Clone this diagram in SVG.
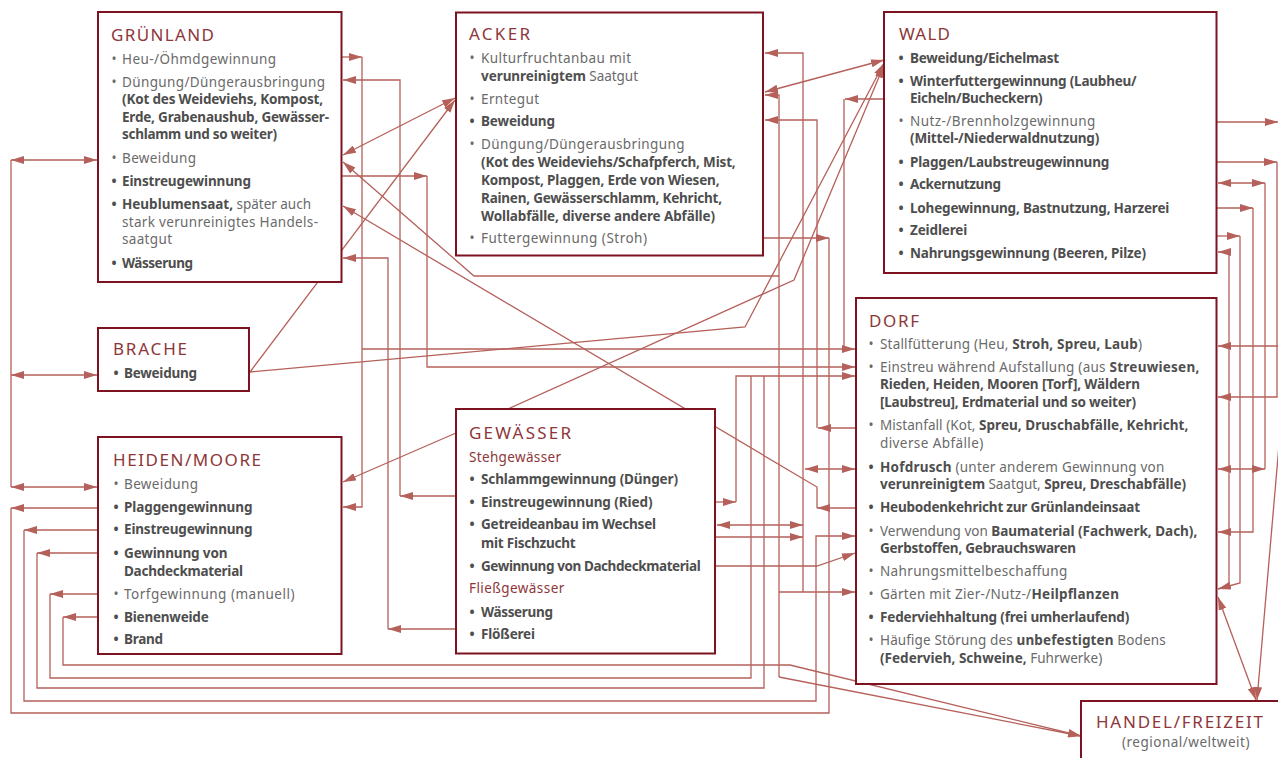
<svg xmlns="http://www.w3.org/2000/svg" width="1278" height="758" viewBox="0 0 1278 758">
<style>
text{font-family:"Noto Sans","Open Sans","DejaVu Sans",sans-serif;font-size:13.5px}
.t{font-size:17px;fill:#8e3639}
.s{fill:#8e3639}
.r{fill:#6a6a6a}
.b{fill:#4e4e4e;font-weight:700}
.m{fill:#6a6a6a}
tspan.b{fill:#4e4e4e;font-weight:700}
.box{fill:#fff;stroke:#7d1220;stroke-width:2}
.c{fill:none;stroke:#b5605a;stroke-width:1.3}
.ae{marker-end:url(#ah)}
.as{marker-start:url(#ah)}
</style>
<defs>
<marker id="ah" viewBox="0 0 13 8" refX="13" refY="4" markerWidth="13" markerHeight="8" markerUnits="userSpaceOnUse" orient="auto-start-reverse"><path d="M0,0 L13,4 L0,8 z" fill="#b5605a"/></marker>
</defs>
<rect width="1278" height="758" fill="#fff"/>
<g id="connectors">
<path class="c" d="M11,160 V487"/>
<path class="c as ae" d="M11,160 H97"/>
<path class="c as ae" d="M11,375 H97"/>
<path class="c as ae" d="M11,487 H97"/>
<path class="c ae" d="M98,508 H11"/>
<path class="c" d="M11,508 V713 H829 V238"/>
<path class="c ae" d="M98,530 H24"/>
<path class="c ae" d="M24,530 V701 H816 V536 H855"/>
<path class="c ae" d="M98,553 H37"/>
<path class="c" d="M37,553 V688 H764 V376"/>
<path class="c ae" d="M98,594 H50"/>
<path class="c" d="M50,594 V678 H751 V376"/>
<path class="c ae" d="M98,617 H63"/>
<path class="c ae" d="M63,617 V665 H790 L1081,736"/>
<path class="c ae" d="M341,57 H362"/>
<path class="c ae" d="M362,57 V507 H343"/>
<path class="c ae" d="M362,349 H855"/>
<path class="c ae" d="M456,496 H400"/>
<path class="c ae" d="M400,496 V80 H343"/>
<path class="c ae" d="M341,176 H427"/>
<path class="c ae" d="M427,176 V367 H855"/>
<path class="c ae" d="M456,629 H388"/>
<path class="c ae" d="M388,629 V258 H343"/>
<path class="c as ae" d="M343,155 L455,98"/>
<path class="c ae" d="M779,276 H474 L343,162"/>
<path class="c ae" d="M855,508 H817"/>
<path class="c ae" d="M817,508 V487 L343,206"/>
<path class="c ae" d="M250,372 L455,100"/>
<path class="c ae" d="M250,372 L745,327 L884,63"/>
<path class="c ae" d="M508,409 L794,280 L884,65"/>
<path class="c ae" d="M456,433 L343,482"/>
<path class="c ae" d="M803,592 V53 H765"/>
<path class="c ae" d="M779,592 H855"/>
<path class="c ae" d="M779,677 V95 H765"/>
<path class="c as ae" d="M765,92 L884,60"/>
<path class="c ae" d="M779,677 L1081,736"/>
<path class="c ae" d="M855,428 H818"/>
<path class="c ae" d="M817,428 V120 H765"/>
<path class="c ae" d="M763,238 H829"/>
<path class="c ae" d="M884,99 H845"/>
<path class="c" d="M844,99 V349"/>
<path class="c ae" d="M715,502 H736"/>
<path class="c ae" d="M736,502 V376 H855"/>
<path class="c as ae" d="M717,525 H803"/>
<path class="c ae" d="M715,537 H803"/>
<path class="c ae" d="M715,566 H817 L855,553"/>
<path class="c as ae" d="M805,469 H855"/>
<path class="c ae" d="M1278,346 H1218"/>
<path class="c ae" d="M1216,162 H1277"/>
<path class="c ae" d="M1277,162 V397 H1218"/>
<path class="c as ae" d="M1218,183 H1265"/>
<path class="c" d="M1265,183 V469"/>
<path class="c as ae" d="M1218,469 H1265"/>
<path class="c ae" d="M1216,208 H1253"/>
<path class="c ae" d="M1253,208 V532 H1218"/>
<path class="c ae" d="M1216,236 H1240"/>
<path class="c ae" d="M1240,236 V583 L1218,589"/>
<path class="c ae" d="M1218,589 L1229,585 V252 H1218"/>
<path class="c ae" d="M1216,122 H1278"/>
<path class="c as ae" d="M1218,597 L1256,700"/>
<path class="c ae" d="M1279,445 L1257,700"/>
</g>
<g id="gruenland">
<rect class="box" x="98" y="12" width="243.5" height="270"/>
<text class="t" x="111" y="41" textLength="103">GRÜNLAND</text>
<text class="r" x="111.5" y="64">•</text><text class="r" x="122" y="64" textLength="154">Heu-/Öhmdgewinnung</text>
<text class="r" x="111.5" y="87">•</text><text class="r" x="122" y="87" textLength="203">Düngung/Düngerausbringung</text>
<text class="b" x="122" y="104" textLength="201">(Kot des Weideviehs, Kompost,</text>
<text class="b" x="122" y="122" textLength="207">Erde, Grabenaushub, Gewässer-</text>
<text class="b" x="122" y="139" textLength="155">schlamm und so weiter)</text>
<text class="r" x="111.5" y="163">•</text><text class="r" x="122" y="163" textLength="74">Beweidung</text>
<text class="b" x="111.5" y="186">•</text><text class="b" x="122" y="186" textLength="129">Einstreugewinnung</text>
<text class="b" x="111.5" y="209">•</text><text class="m" x="122" y="209" textLength="189"><tspan class="b">Heublumensaat,</tspan> später auch</text>
<text class="r" x="122" y="227" textLength="196">stark verunreinigtes Handels-</text>
<text class="r" x="122" y="244" textLength="50">saatgut</text>
<text class="b" x="111.5" y="268">•</text><text class="b" x="122" y="268" textLength="71">Wässerung</text>
</g>
<g id="brache">
<rect class="box" x="98" y="328" width="151" height="63"/>
<text class="t" x="113" y="355" textLength="74">BRACHE</text>
<text class="b" x="113.5" y="378">•</text><text class="b" x="124" y="378" textLength="73">Beweidung</text>
</g>
<g id="heiden">
<rect class="box" x="98" y="437" width="243.5" height="217"/>
<text class="t" x="113" y="466" textLength="148">HEIDEN/MOORE</text>
<text class="r" x="113.5" y="489">•</text><text class="r" x="124" y="489" textLength="74">Beweidung</text>
<text class="b" x="113.5" y="512">•</text><text class="b" x="124" y="512" textLength="128.5">Plaggengewinnung</text>
<text class="b" x="113.5" y="534">•</text><text class="b" x="124" y="534" textLength="128.5">Einstreugewinnung</text>
<text class="b" x="113.5" y="558">•</text><text class="b" x="124" y="558" textLength="103.5">Gewinnung von</text>
<text class="b" x="124" y="576" textLength="119">Dachdeckmaterial</text>
<text class="r" x="113.5" y="599">•</text><text class="r" x="124" y="599" textLength="170.5">Torfgewinnung (manuell)</text>
<text class="b" x="113.5" y="622">•</text><text class="b" x="124" y="622" textLength="84.7">Bienenweide</text>
<text class="b" x="113.5" y="644">•</text><text class="b" x="124" y="644" textLength="39">Brand</text>
</g>
<g id="acker">
<rect class="box" x="456" y="12.5" width="307" height="243"/>
<text class="t" x="469" y="40" textLength="61">ACKER</text>
<text class="r" x="469.5" y="63">•</text><text class="r" x="481" y="63" textLength="150">Kulturfruchtanbau mit</text>
<text class="m" x="481" y="81" textLength="157"><tspan class="b">verunreinigtem</tspan> Saatgut</text>
<text class="r" x="469.5" y="104">•</text><text class="r" x="481" y="104" textLength="58">Erntegut</text>
<text class="b" x="469.5" y="126">•</text><text class="b" x="481" y="126" textLength="74">Beweidung</text>
<text class="r" x="469.5" y="149">•</text><text class="r" x="481" y="149" textLength="203.6">Düngung/Düngerausbringung</text>
<text class="b" x="481" y="167" textLength="254.7">(Kot des Weideviehs/Schafpferch, Mist,</text>
<text class="b" x="481" y="185" textLength="238.6">Kompost, Plaggen, Erde von Wiesen,</text>
<text class="b" x="481" y="203" textLength="241">Rainen, Gewässerschlamm, Kehricht,</text>
<text class="b" x="481" y="221" textLength="234">Wollabfälle, diverse andere Abfälle)</text>
<text class="r" x="469.5" y="243">•</text><text class="r" x="481" y="243" textLength="166">Futtergewinnung (Stroh)</text>
</g>
<g id="wald">
<rect class="box" x="884" y="12" width="332.5" height="261"/>
<text class="t" x="899" y="40" textLength="51">WALD</text>
<text class="b" x="898.5" y="63">•</text><text class="b" x="910" y="63" textLength="149">Beweidung/Eichelmast</text>
<text class="b" x="898.5" y="86">•</text><text class="b" x="910" y="86" textLength="226.7">Winterfuttergewinnung (Laubheu/</text>
<text class="b" x="910" y="103" textLength="132.7">Eicheln/Bucheckern)</text>
<text class="r" x="898.5" y="126">•</text><text class="r" x="910" y="126" textLength="185.3">Nutz-/Brennholzgewinnung</text>
<text class="b" x="910" y="143" textLength="189.3">(Mittel-/Niederwaldnutzung)</text>
<text class="b" x="898.5" y="167">•</text><text class="b" x="910" y="167" textLength="199.3">Plaggen/Laubstreugewinnung</text>
<text class="b" x="898.5" y="189">•</text><text class="b" x="910" y="189" textLength="91">Ackernutzung</text>
<text class="b" x="898.5" y="213">•</text><text class="b" x="910" y="213" textLength="259.3">Lohegewinnung, Bastnutzung, Harzerei</text>
<text class="b" x="898.5" y="235">•</text><text class="b" x="910" y="235" textLength="57.3">Zeidlerei</text>
<text class="b" x="898.5" y="258">•</text><text class="b" x="910" y="258" textLength="236">Nahrungsgewinnung (Beeren, Pilze)</text>
</g>
<g id="dorf">
<rect class="box" x="856" y="298" width="360.5" height="386"/>
<text class="t" x="869" y="327" textLength="50">DORF</text>
<text class="r" x="868.5" y="349">•</text><text class="m" x="880" y="349" textLength="262">Stallfütterung (Heu, <tspan class="b">Stroh, Spreu, Laub</tspan>)</text>
<text class="r" x="868.5" y="372">•</text><text class="m" x="880" y="372" textLength="319.3">Einstreu während Aufstallung (aus <tspan class="b">Streuwiesen,</tspan></text>
<text class="b" x="880" y="389" textLength="260">Rieden, Heiden, Mooren [Torf], Wäldern</text>
<text class="b" x="880" y="407" textLength="256">[Laubstreu], Erdmaterial und so weiter)</text>
<text class="r" x="868.5" y="430">•</text><text class="m" x="880" y="430" textLength="308.3">Mistanfall (Kot, <tspan class="b">Spreu, Druschabfälle, Kehricht,</tspan></text>
<text class="r" x="880" y="448" textLength="103.3">diverse Abfälle)</text>
<text class="b" x="868.5" y="472">•</text><text class="m" x="880" y="472" textLength="284.3"><tspan class="b">Hofdrusch</tspan> (unter anderem Gewinnung von</text>
<text class="m" x="880" y="489" textLength="306"><tspan class="b">verunreinigtem</tspan> Saatgut, <tspan class="b">Spreu, Dreschabfälle)</tspan></text>
<text class="b" x="868.5" y="512">•</text><text class="b" x="880" y="512" textLength="260">Heubodenkehricht zur Grünlandeinsaat</text>
<text class="r" x="868.5" y="536">•</text><text class="m" x="880" y="536" textLength="317.3">Verwendung von <tspan class="b">Baumaterial (Fachwerk, Dach),</tspan></text>
<text class="b" x="880" y="553" textLength="196">Gerbstoffen, Gebrauchswaren</text>
<text class="r" x="868.5" y="576">•</text><text class="r" x="880" y="576" textLength="187.3">Nahrungsmittelbeschaffung</text>
<text class="r" x="868.5" y="599">•</text><text class="m" x="880" y="599" textLength="239">Gärten mit Zier-/Nutz-/<tspan class="b">Heilpflanzen</tspan></text>
<text class="b" x="868.5" y="622">•</text><text class="b" x="880" y="622" textLength="249.3">Federviehhaltung (frei umherlaufend)</text>
<text class="r" x="868.5" y="645">•</text><text class="m" x="880" y="645" textLength="285.7">Häufige Störung des <tspan class="b">unbefestigten</tspan> Bodens</text>
<text class="m" x="880" y="663" textLength="222.3"><tspan class="b">(Federvieh, Schweine,</tspan> Fuhrwerke)</text>
</g>
<g id="gewaesser">
<rect class="box" x="456" y="409" width="259" height="244.5"/>
<text class="t" x="469" y="439" textLength="102">GEWÄSSER</text>
<text class="s" x="469" y="462" textLength="92">Stehgewässer</text>
<text class="b" x="469.5" y="484">•</text><text class="b" x="481" y="484" textLength="197">Schlammgewinnung (Dünger)</text>
<text class="b" x="469.5" y="507">•</text><text class="b" x="481" y="507" textLength="171.5">Einstreugewinnung (Ried)</text>
<text class="b" x="469.5" y="529">•</text><text class="b" x="481" y="529" textLength="175">Getreideanbau im Wechsel</text>
<text class="b" x="481" y="548" textLength="94.7">mit Fischzucht</text>
<text class="b" x="469.5" y="571">•</text><text class="b" x="481" y="571" textLength="219.7">Gewinnung von Dachdeckmaterial</text>
<text class="s" x="469" y="593" textLength="95.3">Fließgewässer</text>
<text class="b" x="469.5" y="617">•</text><text class="b" x="481" y="617" textLength="72">Wässerung</text>
<text class="b" x="469.5" y="639">•</text><text class="b" x="481" y="639" textLength="54">Flößerei</text>
</g>
<g id="handel">
<rect class="box" x="1081" y="701" width="220" height="80"/>
<text class="t" x="1096" y="728" textLength="167">HANDEL/FREIZEIT</text>
<text class="r" x="1122" y="747" textLength="127.5">(regional/weltweit)</text>
</g>
</svg>
